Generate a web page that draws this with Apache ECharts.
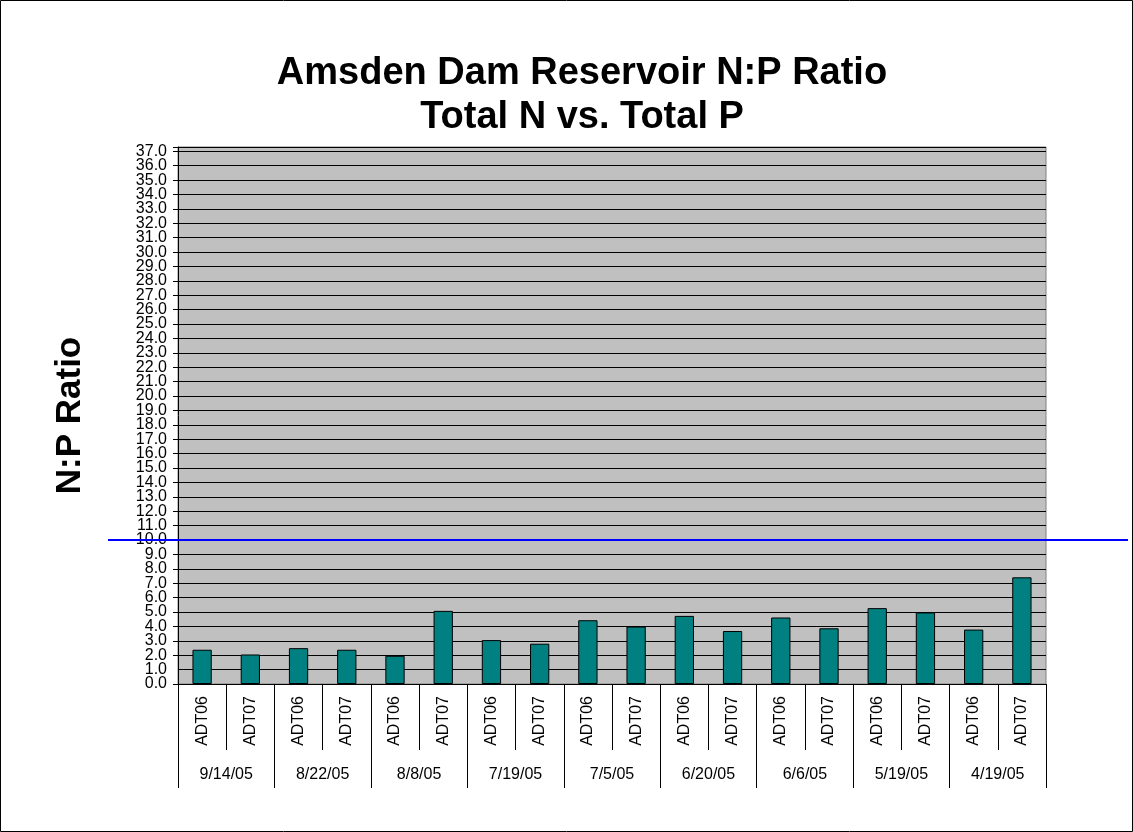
<!DOCTYPE html>
<html>
<head>
<meta charset="utf-8">
<script src="https://cdn.jsdelivr.net/npm/echarts@6/dist/echarts.min.js"></script>
<style>
  html, body { margin: 0; padding: 0; background: #fff; }
  #chart { width: 1133px; height: 832px; }
</style>
</head>
<body>
<div id="chart"></div>
<script>
// sampling dates (group labels) and sites within each date
const dates = ['9/14/05', '8/22/05', '8/8/05', '7/19/05', '7/5/05', '6/20/05', '6/6/05', '5/19/05', '4/19/05']
const sites = ['ADT06', 'ADT07']
// N:P ratio, one value per site per date
const ratios = [2.38, 2.05, 2.49, 2.38, 1.96, 5.08, 3.05, 2.80, 4.43, 3.99, 4.73, 3.68, 4.62, 3.87, 5.27, 4.97, 3.78, 7.41]
const threshold = 10
const yMax = 37.3

const siteLabels = []
dates.forEach(() => sites.forEach(s => siteLabels.push(s)))

const font = 'Liberation Sans, Arial, sans-serif'
const chart = echarts.init(document.getElementById('chart'))

const yLabelStyle = { margin: 11, fontFamily: font, fontSize: 16, color: '#000' }

const option = {
  animation: false,
  title: {
    text: 'Amsden Dam Reservoir N:P Ratio\nTotal N vs. Total P',
    left: 577,
    top: 47,
    textAlign: 'center',
    textStyle: { fontFamily: font, fontWeight: 'bold', fontSize: 38, lineHeight: 44, color: '#000' }
  },
  grid: {
    left: 178, top: 147, right: 87, bottom: 148,
    show: true, backgroundColor: '#c0c0c0', borderColor: '#808080', borderWidth: 1
  },
  xAxis: [
    {
      type: 'category',
      data: siteLabels,
      axisLine: { show: true, lineStyle: { color: '#000', width: 1 } },
      axisTick: { show: true, interval: 0, length: 66, lineStyle: { color: '#000', width: 1 } },
      axisLabel: { interval: 0, rotate: 90, margin: 12, fontFamily: font, fontSize: 16, color: '#000' }
    },
    {
      type: 'category',
      data: dates,
      position: 'bottom',
      axisLine: { show: false },
      axisTick: { show: true, interval: 0, length: 104, lineStyle: { color: '#000', width: 1 } },
      axisLabel: { interval: 0, margin: 83, fontFamily: font, fontSize: 16, color: '#000' }
    }
  ],
  yAxis: [
    {
      type: 'value',
      min: 0,
      max: yMax,
      interval: 1,
      name: 'N:P Ratio',
      nameLocation: 'middle',
      nameRotate: 90,
      nameGap: 90,
      nameTextStyle: { fontFamily: font, fontWeight: 'bold', fontSize: 35, color: '#000' },
      axisLine: { show: true, lineStyle: { color: '#000' } },
      axisTick: { show: true, length: 5, lineStyle: { color: '#000' } },
      axisLabel: Object.assign({}, yLabelStyle, {
        showMinLabel: true,
        formatter: v => (Number.isInteger(v) ? v.toFixed(1) : '')
      }),
      splitLine: { show: true, lineStyle: { color: '#000', width: 1 } }
    },
    {
      // same scale, only carries the 1.0 label that the crowded axis drops
      type: 'value',
      min: 0,
      max: yMax,
      interval: 1,
      position: 'left',
      axisLine: { show: false },
      axisTick: { show: false },
      splitLine: { show: false },
      axisLabel: Object.assign({}, yLabelStyle, {
        showMinLabel: false,
        formatter: v => (v === 1 ? v.toFixed(1) : '')
      })
    }
  ],
  series: [
    {
      type: 'bar',
      xAxisIndex: 0,
      yAxisIndex: 0,
      data: ratios,
      barWidth: '40%',
      itemStyle: { color: '#008080', borderColor: '#000', borderWidth: 1 }
    }
  ]
}
chart.setOption(option)

// threshold line at N:P = 10, runs past the plot area like the original
const y10 = chart.convertToPixel({ yAxisIndex: 0 }, threshold)
chart.setOption({
  graphic: [
    {
      type: 'rect',
      shape: { x: 0.5, y: 0.5, width: 1132, height: 831 },
      style: { fill: 'none', stroke: '#000', lineWidth: 1 },
      silent: true
    },
    {
      type: 'line',
      shape: { x1: 108, y1: y10, x2: 1128, y2: y10 },
      style: { stroke: '#0000ff', lineWidth: 2 },
      z: 100
    }
  ]
})
</script>
</body>
</html>
